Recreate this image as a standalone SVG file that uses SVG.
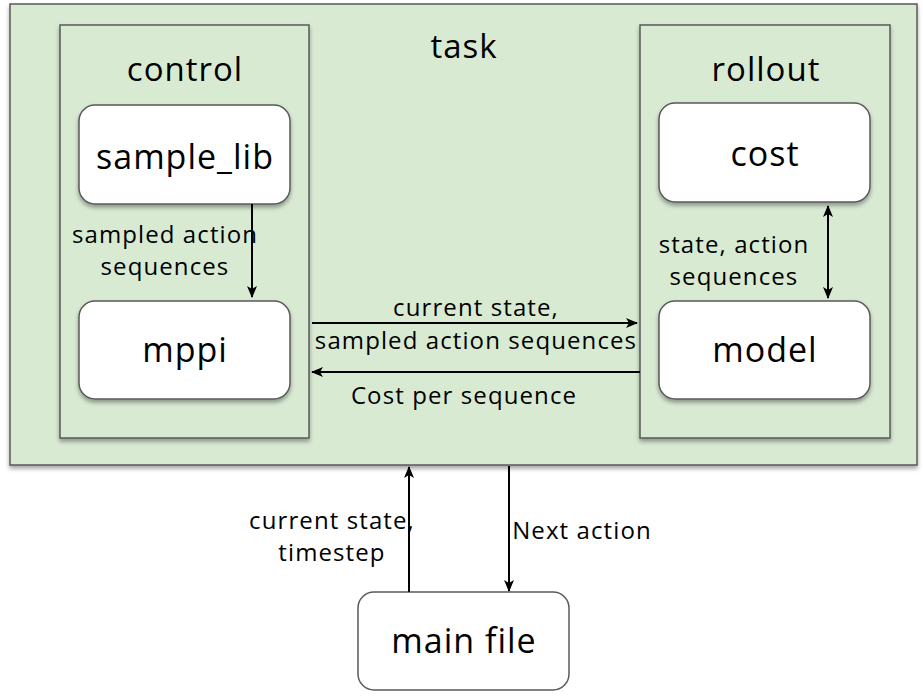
<svg xmlns="http://www.w3.org/2000/svg" width="923" height="696" viewBox="0 0 923 696">
<defs>
<filter id="sh" x="-10%" y="-10%" width="120%" height="130%">
<feDropShadow dx="0" dy="3" stdDeviation="2" flood-color="#000" flood-opacity="0.35"/>
</filter>
<marker id="ah" viewBox="0 0 12 10" refX="11" refY="5" markerWidth="12" markerHeight="10" markerUnits="userSpaceOnUse" orient="auto-start-reverse">
<path d="M0,0 L12,5 L0,10 L3,5 Z" fill="#000"/>
</marker>
<style>
.grp{fill:#d9ead3;stroke:#595959;stroke-width:1.5;filter:url(#sh)}
.node{fill:#fff;stroke:#595959;stroke-width:1.5;filter:url(#sh)}
.plain{fill:#fff;stroke:#595959;stroke-width:1.5}
text{font-family:"Open Sans","Lato","Liberation Sans",sans-serif;fill:#000;text-anchor:middle}
.t1{font-size:33px;letter-spacing:1px}
.t2{font-size:34px;letter-spacing:1px}
.lb{font-size:24px;letter-spacing:1.1px}
.cn{stroke:#000;stroke-width:2;fill:none}
</style>
</defs>
<rect width="923" height="696" fill="#fff"/>
<g id="task"><rect class="grp" x="10" y="4" width="907" height="461"/><text class="t1" x="464" y="58">task</text></g>
<g id="control"><rect class="grp" x="60" y="25" width="249" height="413"/><text class="t1" x="185" y="81">control</text></g>
<g id="rollout"><rect class="grp" x="640" y="25" width="250" height="413"/><text class="t1" x="766" y="81">rollout</text></g>
<g id="sample_lib"><rect class="node" x="79" y="105" width="211" height="99" rx="16"/><text class="t2" x="185" y="169">sample_lib</text></g>
<g id="mppi"><rect class="node" x="79" y="301" width="211" height="98" rx="16"/><text class="t2" x="185" y="362">mppi</text></g>
<g id="cost"><rect class="node" x="659" y="103" width="211" height="99" rx="16"/><text class="t2" x="765" y="166">cost</text></g>
<g id="model"><rect class="node" x="659" y="301" width="211" height="98" rx="16"/><text class="t2" x="765" y="362">model</text></g>
<g id="main_file"><rect class="plain" x="358" y="592" width="211" height="98" rx="16"/><text class="t2" x="464" y="653">main file</text></g>
<g id="connectors">
<line class="cn" x1="252" y1="204" x2="252" y2="297" marker-end="url(#ah)"/>
<line class="cn" x1="312" y1="323" x2="637" y2="323" marker-end="url(#ah)"/>
<line class="cn" x1="640" y1="372" x2="312" y2="372" marker-end="url(#ah)"/>
<line class="cn" x1="828" y1="206" x2="828" y2="298" marker-start="url(#ah)" marker-end="url(#ah)"/>
<line class="cn" x1="409" y1="592" x2="409" y2="467" marker-end="url(#ah)"/>
<line class="cn" x1="509" y1="466" x2="509" y2="591" marker-end="url(#ah)"/>
<text class="lb" x="165" y="243">sampled action</text>
<text class="lb" x="165" y="275">sequences</text>
<text class="lb" x="476" y="316">current state,</text>
<text class="lb" x="476" y="349">sampled action sequences</text>
<text class="lb" x="464" y="404">Cost per sequence</text>
<text class="lb" x="734" y="253">state, action</text>
<text class="lb" x="734" y="285">sequences</text>
<text class="lb" x="332" y="529">current state,</text>
<text class="lb" x="332" y="561">timestep</text>
<text class="lb" x="582" y="539">Next action</text>
</g>
</svg>
